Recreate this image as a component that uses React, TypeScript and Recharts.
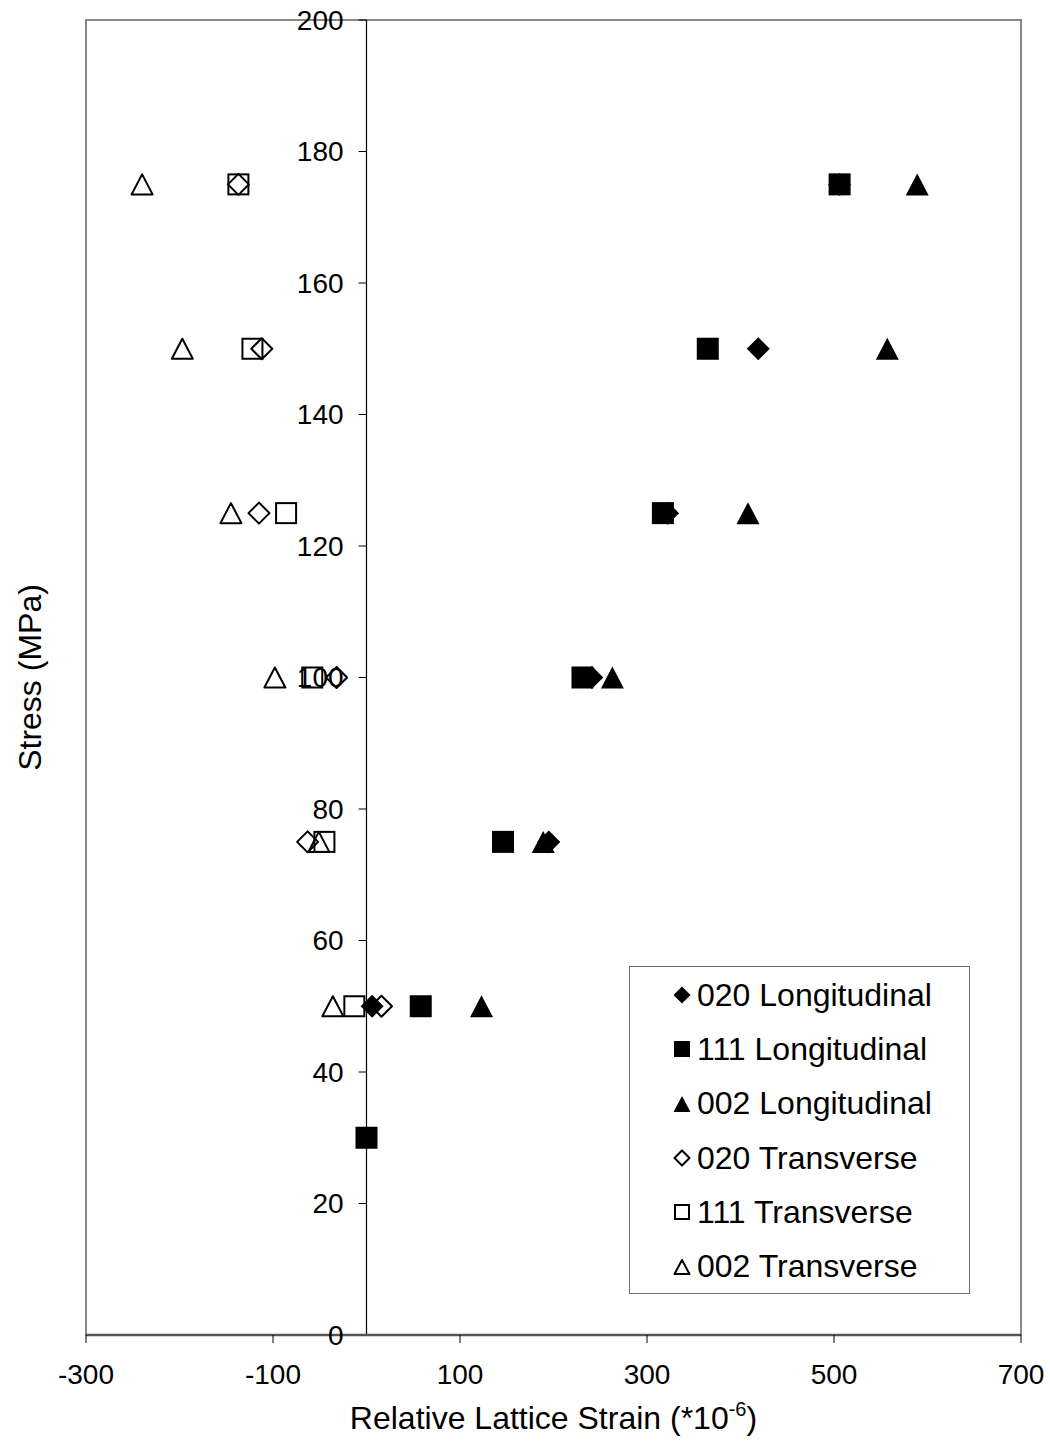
import React from 'react';
import {
  ScatterChart, Scatter, XAxis, YAxis, ReferenceLine, ReferenceArea, Legend,
} from 'recharts';

// strain values (*10^-6) and stress (MPa) per series
const long020Strain = [6, 195, 241, 322, 419, 506];
const long020Stress = [50, 75, 100, 125, 150, 175];

const long111Strain = [0, 58, 146, 231, 317, 365, 506];
const long111Stress = [30, 50, 75, 100, 125, 150, 175];

const long002Strain = [123, 189, 263, 408, 557, 589];
const long002Stress = [50, 75, 100, 125, 150, 175];

const trans020Strain = [16, -63, -32, -115, -112, -137];
const trans020Stress = [50, 75, 100, 125, 150, 175];

const trans111Strain = [-13, -45, -58, -86, -122, -137];
const trans111Stress = [50, 75, 100, 125, 150, 175];

const trans002Strain = [-36, -51, -98, -145, -197, -240];
const trans002Stress = [50, 75, 100, 125, 150, 175];

const xTicks = [-300, -100, 100, 300, 500, 700];
const yTicks = [0, 20, 40, 60, 80, 100, 120, 140, 160, 180, 200];

type Kind = 'diamond' | 'square' | 'triangle';

const SERIES: { name: string; kind: Kind; filled: boolean; strain: number[]; stress: number[] }[] = [
  { name: '020 Longitudinal', kind: 'diamond', filled: true, strain: long020Strain, stress: long020Stress },
  { name: '111 Longitudinal', kind: 'square', filled: true, strain: long111Strain, stress: long111Stress },
  { name: '002 Longitudinal', kind: 'triangle', filled: true, strain: long002Strain, stress: long002Stress },
  { name: '020 Transverse', kind: 'diamond', filled: false, strain: trans020Strain, stress: trans020Stress },
  { name: '111 Transverse', kind: 'square', filled: false, strain: trans111Strain, stress: trans111Stress },
  { name: '002 Transverse', kind: 'triangle', filled: false, strain: trans002Strain, stress: trans002Stress },
];

const FONT = '"Liberation Sans", Arial, sans-serif';

function Marker({ cx, cy, kind, filled, r }: { cx: number; cy: number; kind: Kind; filled: boolean; r: number }) {
  const fill = filled ? '#000' : 'none';
  const sw = filled ? 0 : 2;
  const h = filled ? r : r - 1;
  if (kind === 'square') {
    return <rect x={cx - h} y={cy - h} width={h * 2} height={h * 2} fill={fill} stroke="#000" strokeWidth={sw} />;
  }
  if (kind === 'diamond') {
    const d = h + 0.5;
    return <polygon points={`${cx},${cy - d} ${cx + d},${cy} ${cx},${cy + d} ${cx - d},${cy}`} fill={fill} stroke="#000" strokeWidth={sw} strokeLinejoin="round" />;
  }
  return <polygon points={`${cx},${cy - h} ${cx + h + 0.5},${cy + h} ${cx - h - 0.5},${cy + h}`} fill={fill} stroke="#000" strokeWidth={sw} strokeLinejoin="round" />;
}

const LegendBox = () => (
  <div style={{ width: 341, height: 328, border: '1px solid #6e6e6e', boxSizing: 'border-box', background: '#fff', paddingTop: 1 }}>
    {SERIES.map(s => (
      <div key={s.name} style={{ display: 'flex', alignItems: 'center', height: 54.3, fontFamily: FONT, fontSize: 32, color: '#000' }}>
        <svg width={20} height={20} style={{ marginLeft: 42, marginRight: 5 }}>
          <Marker cx={10} cy={10} kind={s.kind} filled={s.filled} r={8} />
        </svg>
        <span>{s.name}</span>
      </div>
    ))}
  </div>
);

const XTitle = ({ viewBox }: { viewBox?: { x: number; y: number; width: number; height: number } }) => {
  if (!viewBox) return null;
  const { x, y, width } = viewBox;
  return (
    <text x={x + width / 2} y={y + 94} textAnchor="middle" fontSize={32} fill="#000">
      Relative Lattice Strain (*10<tspan dy={-13} fontSize={20}>-6</tspan><tspan dy={13}>)</tspan>
    </text>
  );
};

const YTitle = ({ viewBox }: { viewBox?: { x: number; y: number; width: number; height: number } }) => {
  if (!viewBox) return null;
  const { y, height } = viewBox;
  const cx = 41;
  const cy = y + height / 2;
  return (
    <text x={cx} y={cy} transform={`rotate(-90 ${cx} ${cy})`} textAnchor="middle" fontSize={32} fill="#000">
      Stress (MPa)
    </text>
  );
};

export default function App() {
  return (
    <div style={{ position: 'absolute', left: 0, top: 0, width: 1050, height: 1452, background: '#fff', fontFamily: FONT }}>
      <ScatterChart width={1050} height={1452} margin={{ top: 20, right: 29, left: 0, bottom: 0 }}>
        <ReferenceArea x1={-300} x2={700} y1={0} y2={200} fill="none" stroke="#878787" strokeWidth={2} />
        <XAxis
          type="number" dataKey="x" domain={[-300, 700]} ticks={xTicks} interval={0}
          height={117} tickSize={8} tickMargin={21}
          tick={{ fontSize: 28, fill: '#000' }}
          tickLine={{ stroke: '#000' }}
          axisLine={{ stroke: '#555', strokeWidth: 2.5 }}
          label={<XTitle />}
        />
        <YAxis
          type="number" dataKey="y" domain={[0, 200]} ticks={yTicks} width={86}
          tick={false} tickLine={false} axisLine={false}
          label={<YTitle />}
        />
        <ReferenceLine x={0} stroke="#000" strokeWidth={1.2} />
        {yTicks.map(v => (
          <ReferenceLine
            key={v}
            segment={[{ x: -8.5, y: v }, { x: 0, y: v }]}
            stroke="#000"
            label={{ value: String(v), position: 'left', offset: 15, fontSize: 28, fill: '#000' }}
          />
        ))}
        {SERIES.map(s => (
          <Scatter
            key={s.name}
            name={s.name}
            data={s.strain.map((x, i) => ({ x, y: s.stress[i] }))}
            isAnimationActive={false}
            shape={(p: { cx?: number; cy?: number }) => (
              <Marker cx={p.cx ?? 0} cy={p.cy ?? 0} kind={s.kind} filled={s.filled} r={11} />
            )}
          />
        ))}
        <Legend
          layout="vertical" align="center" verticalAlign="middle"
          wrapperStyle={{ position: 'absolute', left: 629, top: 966, width: 341, height: 328 }}
          content={<LegendBox />}
        />
      </ScatterChart>
    </div>
  );
}
